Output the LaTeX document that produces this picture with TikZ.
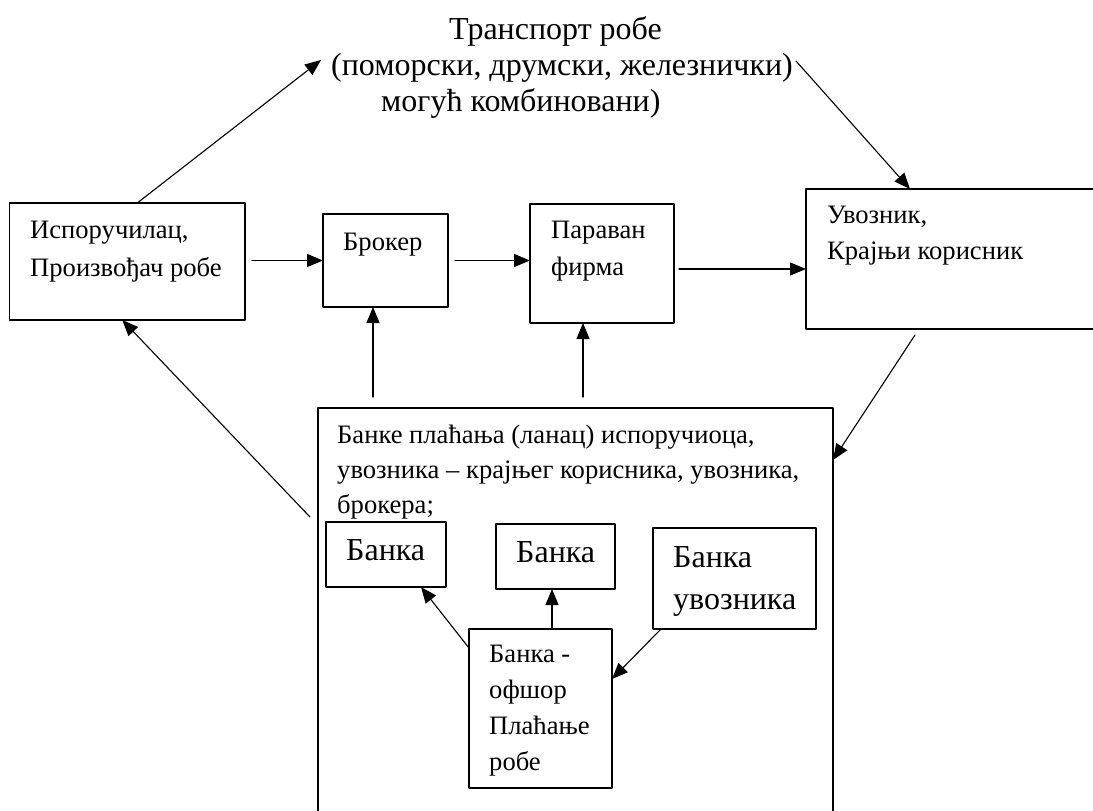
\documentclass[tikz,border=0pt]{standalone}
\usepackage{fontspec}
\setmainfont{Liberation Serif}
\usetikzlibrary{arrows.meta}

\begin{document}
\begin{tikzpicture}[line cap=round,line join=round,>={Triangle[length=16pt,width=13pt]},x=1pt,y=-1pt,
  box/.style={draw,line width=1.1pt,inner sep=0pt,outer sep=0pt},
  txt/.style={anchor=base west,inner sep=0pt,align=left,font=\fontsize{26.6}{36}\selectfont},
  big/.style={anchor=base west,inner sep=0pt,align=left,font=\fontsize{32}{42}\selectfont},
  arr/.style={->,line width=1.1pt}]
\useasboundingbox (0,0) rectangle (1093,811);
\clip (0,0) rectangle (1093,811);
% boxes
\node[box,minimum width=235.5pt,minimum height=117pt] (supplier) at (127.25,261.5) {};
\node[box,minimum width=125pt,minimum height=93pt] (broker) at (385.5,260.5) {};
\node[box,minimum width=144pt,minimum height=119pt] (paravan) at (602,263.5) {};
\node[box,minimum width=294pt,minimum height=140pt] (importer) at (953,259) {};
\node[box,minimum width=515pt,minimum height=432pt] (bank) at (575.5,624) {};
\node[box,minimum width=120pt,minimum height=65pt] (banka1) at (386,554.5) {};
\node[box,minimum width=119pt,minimum height=65pt] (banka2) at (555.5,556.5) {};
\node[box,minimum width=163pt,minimum height=101pt] (banka3) at (734.5,578.5) {};
\node[box,minimum width=143pt,minimum height=159pt] (offshore) at (540.5,708.5) {};
% texts (anchored at the last line)
\node[txt,font=\fontsize{32}{36}\selectfont] (transport) at (331,111) {\hspace*{118pt}Транспорт робе\\(поморски, друмски, железнички)\\\hspace*{50pt}могућ комбиновани)};
\node[txt,font=\fontsize{26.6}{38}\selectfont] (suppliertxt) at (30,276) {Испоручилац,\\Произвођач робе};
\node[txt] (brokertxt) at (343,250) {Брокер};
\node[txt,font=\fontsize{26.6}{37}\selectfont] (paravantxt) at (551,275) {Параван\\фирма};
\node[txt] (importertxt) at (827,259) {Увозник,\\Крајњи корисник};
\node[txt,font=\fontsize{26.6}{35}\selectfont] (banktxt) at (337,513) {Банке плаћања (ланац) испоручиоца,\\увозника – крајњег корисника, увозника,\\брокера;};
\node[big] (banka1txt) at (346,560) {Банка};
\node[big] (banka2txt) at (516,562) {Банка};
\node[big] (banka3txt) at (673,609) {Банка\\увозника};
\node[txt] (offshoretxt) at (489,770) {Банка -\\офшор\\Плаћање\\робе};
% free ends at the transport text
\coordinate (tleft) at (321,60);
\coordinate (tright) at (796,61);
% arrows
\draw[arr] ([xshift=10pt]supplier.north) -- (tleft);
\draw[arr] (tright) -- ([xshift=104pt]importer.north west);
\draw[arr,shorten <=7pt] (supplier.east |- broker.west) -- (broker.west);
\draw[arr,shorten <=7pt] (broker.east) -- (broker.east -| paravan.west);
\draw[arr] ([xshift=5pt,yshift=-5.5pt]paravan.east) -- ([yshift=-10pt]importer.west);
\draw[arr,<-] ([xshift=-12.5pt]broker.south) -- ++(0,90);
\draw[arr,<-] ([xshift=-19pt]paravan.south) -- ++(0,74);
\draw[arr] ([xshift=109pt,yshift=-6pt]importer.south west) -- ([yshift=-52pt]bank.north east);
\draw[arr] ([xshift=-8pt,yshift=-109pt]bank.north west) -- ([xshift=-5pt]supplier.south);
\draw[arr] ([yshift=-19pt]offshore.north west) -- ([xshift=-25pt]banka1.south east);
\draw[arr] ([xshift=11.5pt]offshore.north) -- ([xshift=-3.5pt]banka2.south);
\draw[arr] ([xshift=8pt]banka3.south west) -- ([yshift=-50pt]offshore.north east);
\end{tikzpicture}
\end{document}
